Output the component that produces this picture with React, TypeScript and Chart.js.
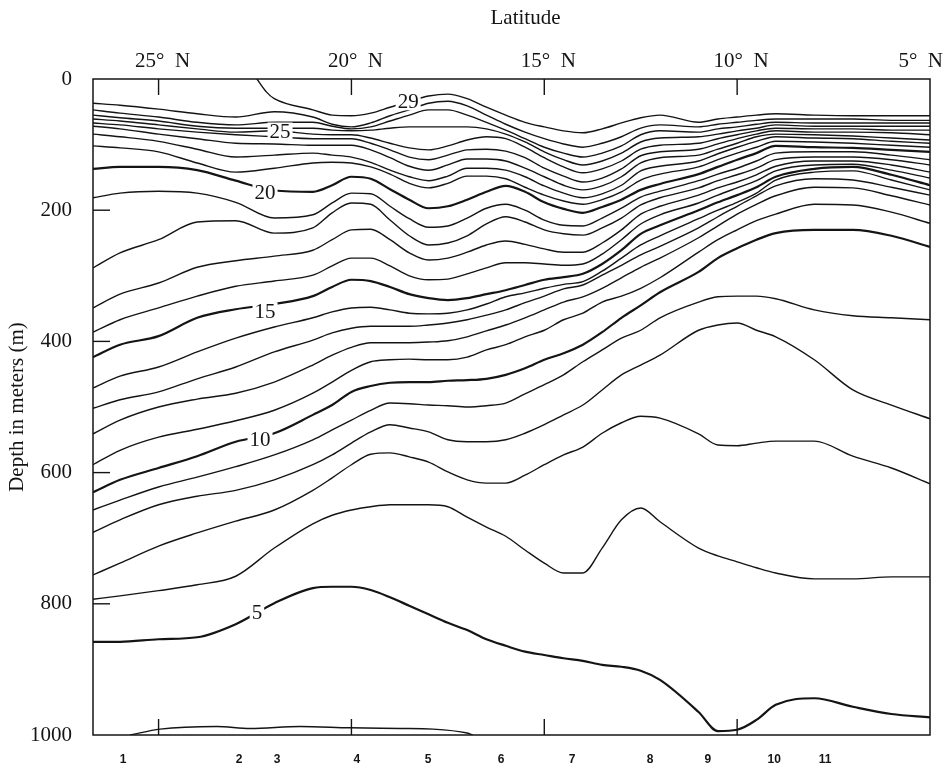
import React, { useEffect, useRef } from "react";
import { Chart, registerables } from "chart.js";

Chart.register(...registerables);

const SERIF = '"Liberation Serif", "DejaVu Serif", serif';
const SANS = '"Liberation Sans", Arial, sans-serif';
const INK = "#141414";

// Latitude grid (°N) shared by the isotherms
const LAT = [26.7, 26, 25, 24, 23, 22, 21, 20.5, 20, 19.5, 19, 18.5, 18, 17.5, 17, 16.5, 16, 15.5, 15, 14.5, 14, 13.5, 13, 12.5, 12, 11, 10.5, 10, 9.5, 9, 8, 7, 6, 5];

// Depth (m) of each isotherm at the latitudes above
const T28 = [37, 40, 46, 53, 58, 50, 58, 69, 73, 67, 56, 47, 37, 34, 41, 55, 69, 81, 91, 99, 104, 98, 88, 75, 70, 73, 69, 66, 63, 61, 61, 61, 63, 63];
const T27 = [47, 52, 58, 66, 70, 66, 66, 72, 76, 73, 64, 55, 47, 47, 55, 66, 78, 91, 104, 113, 119, 113, 102, 85, 79, 81, 76, 73, 69, 66, 67, 67, 67, 67];
const T26 = [55, 59, 64, 72, 75, 75, 75, 78, 79, 78, 75, 73, 73, 73, 73, 76, 84, 96, 111, 123, 131, 125, 113, 96, 90, 88, 84, 79, 75, 70, 72, 72, 72, 72];
const T25 = [61, 64, 70, 76, 81, 79, 84, 85, 85, 90, 98, 105, 108, 102, 93, 88, 91, 104, 120, 134, 143, 137, 125, 107, 101, 98, 91, 85, 79, 75, 76, 76, 78, 78];
const T24 = [67, 70, 76, 81, 85, 88, 91, 91, 91, 98, 108, 119, 123, 116, 108, 107, 110, 120, 136, 148, 157, 151, 137, 117, 111, 107, 99, 91, 84, 79, 81, 81, 82, 85];
const T23 = [72, 76, 84, 91, 98, 99, 101, 101, 101, 108, 120, 133, 139, 131, 122, 122, 125, 136, 149, 162, 169, 163, 149, 128, 120, 116, 107, 98, 88, 84, 85, 87, 90, 93];
const T22 = [84, 88, 95, 107, 119, 116, 113, 116, 119, 127, 139, 149, 155, 148, 136, 136, 139, 149, 163, 174, 181, 175, 162, 140, 133, 125, 114, 104, 95, 88, 90, 91, 95, 98];
const T21 = [102, 105, 111, 128, 142, 136, 128, 127, 128, 134, 145, 159, 166, 159, 148, 148, 152, 165, 177, 186, 191, 184, 172, 154, 145, 134, 123, 113, 104, 95, 96, 98, 101, 104];
const T20 = [137, 134, 134, 139, 155, 170, 172, 162, 149, 152, 168, 184, 197, 194, 184, 172, 163, 172, 188, 198, 204, 195, 184, 169, 160, 145, 134, 123, 113, 102, 104, 105, 108, 111];
const T19 = [181, 174, 171, 174, 188, 212, 207, 189, 174, 175, 194, 213, 226, 224, 212, 197, 191, 200, 215, 223, 224, 212, 197, 180, 171, 155, 145, 136, 125, 113, 111, 111, 116, 123];
const T18 = [288, 265, 245, 218, 216, 235, 227, 204, 189, 191, 215, 239, 253, 250, 239, 221, 210, 218, 230, 236, 238, 227, 212, 192, 181, 166, 155, 146, 136, 123, 119, 119, 123, 131];
const T17 = [349, 328, 311, 287, 277, 270, 261, 245, 230, 229, 245, 265, 276, 273, 264, 253, 247, 252, 259, 264, 264, 250, 230, 206, 194, 177, 166, 157, 146, 133, 125, 125, 131, 142];
const T16 = [386, 367, 349, 331, 316, 308, 299, 285, 273, 273, 285, 300, 306, 305, 297, 288, 280, 280, 282, 284, 282, 267, 245, 221, 207, 189, 177, 166, 155, 140, 131, 130, 139, 151];
const T15 = [424, 405, 392, 364, 351, 343, 331, 317, 306, 308, 317, 328, 334, 337, 334, 328, 322, 314, 306, 302, 297, 282, 261, 236, 223, 200, 188, 177, 165, 149, 137, 134, 146, 162];
const T14 = [471, 453, 439, 416, 395, 378, 364, 355, 349, 348, 352, 357, 358, 357, 352, 343, 332, 326, 319, 313, 309, 293, 273, 253, 239, 213, 200, 188, 174, 154, 142, 140, 154, 169];
const T13 = [502, 489, 477, 457, 439, 416, 398, 387, 380, 377, 377, 377, 375, 372, 367, 360, 352, 341, 331, 320, 314, 299, 284, 268, 255, 227, 210, 194, 178, 163, 152, 154, 165, 177];
const T12 = [541, 520, 500, 488, 479, 462, 436, 421, 409, 402, 402, 402, 401, 399, 393, 384, 375, 364, 352, 340, 332, 319, 303, 287, 273, 242, 224, 206, 191, 178, 165, 166, 178, 192];
const T11 = [588, 566, 546, 534, 521, 505, 479, 462, 444, 431, 428, 427, 428, 428, 424, 413, 405, 393, 383, 367, 357, 340, 331, 319, 303, 264, 245, 230, 216, 206, 191, 192, 203, 220];
const T10 = [630, 611, 593, 575, 553, 540, 512, 497, 477, 468, 463, 462, 462, 460, 459, 457, 451, 441, 428, 418, 405, 386, 364, 345, 325, 294, 273, 258, 245, 235, 230, 230, 239, 256];
const T9 = [657, 642, 622, 607, 591, 573, 550, 535, 520, 505, 494, 495, 497, 498, 500, 498, 494, 480, 466, 451, 431, 413, 395, 383, 364, 340, 332, 331, 331, 335, 352, 361, 364, 367];
const T8 = [691, 672, 649, 636, 627, 611, 588, 573, 555, 538, 527, 532, 538, 550, 553, 553, 550, 540, 527, 512, 497, 474, 451, 436, 421, 383, 375, 372, 383, 393, 428, 474, 497, 518];
const T7 = [756, 738, 712, 692, 674, 657, 627, 608, 588, 572, 570, 576, 584, 599, 611, 616, 616, 604, 588, 573, 561, 540, 524, 514, 517, 541, 558, 559, 555, 552, 552, 575, 593, 617];
const T6 = [793, 788, 780, 771, 758, 715, 678, 665, 657, 652, 649, 649, 649, 652, 668, 683, 697, 718, 738, 753, 753, 715, 672, 654, 675, 715, 727, 736, 745, 753, 762, 762, 759, 759];
const T5 = [858, 858, 854, 851, 831, 799, 776, 774, 774, 779, 790, 803, 816, 829, 840, 854, 864, 873, 878, 883, 887, 893, 896, 902, 916, 965, 994, 992, 977, 954, 944, 957, 968, 973];

// 29° isotherm outcrops at the surface
const LAT29 = [22.45, 22.2, 22, 21, 20.5, 20, 19.5, 19, 18.5, 18, 17.5, 17, 16.5, 16, 15.5, 15, 14.5, 14, 13.5, 13, 12.5, 12, 11, 10.5, 10, 9.5, 9, 8, 7, 6, 5];
const T29 = [0, 20, 30, 47, 55, 56, 52, 43, 34, 26, 23, 30, 43, 55, 66, 73, 79, 82, 76, 67, 59, 55, 66, 61, 58, 55, 53, 55, 56, 56, 56];

// 4° isotherm touching the bottom of the section
const LAT4 = [25.74, 24.96, 23.49, 22.63, 21.33, 20.04, 18.74, 17.88, 17.0, 16.85];
const T4 = [1000, 991, 987, 990, 987, 989, 990, 991, 997, 1000];

const BOLD = ["5", "10", "15", "20"];

// Axis ticks
const LAT_TICKS = [25, 20, 15, 10, 5];
const DEPTH_TICKS = [0, 200, 400, 600, 800, 1000];
const STATION_LABELS = ["1", "2", "3", "4", "5", "6", "7", "8", "9", "10", "11"];
const STATION_LAT = [25.92, 22.91, 21.93, 19.86, 18.01, 16.12, 14.28, 12.26, 10.76, 9.04, 7.72];

// Contour labels
const LABEL_TEXT = ["29", "25", "20", "15", "10", "5"];
const LABEL_LAT = [18.53, 21.85, 22.24, 22.24, 22.37, 22.45];
const LABEL_DEPTH = [34, 80, 173, 354, 549, 813];

const SERIES: { name: string; lat: number[]; d: number[] }[] = [
  { name: "29", lat: LAT29, d: T29 },
  { name: "28", lat: LAT, d: T28 },
  { name: "27", lat: LAT, d: T27 },
  { name: "26", lat: LAT, d: T26 },
  { name: "25", lat: LAT, d: T25 },
  { name: "24", lat: LAT, d: T24 },
  { name: "23", lat: LAT, d: T23 },
  { name: "22", lat: LAT, d: T22 },
  { name: "21", lat: LAT, d: T21 },
  { name: "20", lat: LAT, d: T20 },
  { name: "19", lat: LAT, d: T19 },
  { name: "18", lat: LAT, d: T18 },
  { name: "17", lat: LAT, d: T17 },
  { name: "16", lat: LAT, d: T16 },
  { name: "15", lat: LAT, d: T15 },
  { name: "14", lat: LAT, d: T14 },
  { name: "13", lat: LAT, d: T13 },
  { name: "12", lat: LAT, d: T12 },
  { name: "11", lat: LAT, d: T11 },
  { name: "10", lat: LAT, d: T10 },
  { name: "9", lat: LAT, d: T9 },
  { name: "8", lat: LAT, d: T8 },
  { name: "7", lat: LAT, d: T7 },
  { name: "6", lat: LAT, d: T6 },
  { name: "5", lat: LAT, d: T5 },
  { name: "4", lat: LAT4, d: T4 },
];

const decor = {
  id: "decor",
  afterDatasetsDraw(chart: any) {
    const { ctx, chartArea } = chart;
    const { left, right, top, bottom } = chartArea;
    const x = chart.scales.x;
    const y = chart.scales.y;
    ctx.save();
    ctx.strokeStyle = INK;
    ctx.lineWidth = 1.5;
    ctx.strokeRect(left, top, right - left, bottom - top);
    ctx.lineWidth = 1.4;
    const seg = (a: number, b: number, c: number, d: number) => {
      ctx.beginPath();
      ctx.moveTo(a, b);
      ctx.lineTo(c, d);
      ctx.stroke();
    };
    LAT_TICKS.filter((v) => v !== 5).forEach((v) => {
      const px = x.getPixelForValue(v);
      seg(px, top, px, top + 16);
      seg(px, bottom, px, bottom - 16);
    });
    DEPTH_TICKS.filter((v) => v > 0 && v < 1000).forEach((v) => {
      const py = y.getPixelForValue(v);
      seg(left, py, left + 17, py);
    });

    ctx.font = `21px ${SERIF}`;
    ctx.textBaseline = "middle";
    // latitude tick labels
    LAT_TICKS.forEach((v, i) => {
      const px = x.getPixelForValue(v);
      const last = i === LAT_TICKS.length - 1;
      ctx.fillStyle = INK;
      ctx.textAlign = last ? "right" : "center";
      ctx.fillText(`${v}°  N`, last ? px + 13 : px + 4, top - 18);
    });
    // axis title
    ctx.textAlign = "center";
    ctx.fillText("Latitude", (left + right) / 2 + 14, 18);

    // contour labels
    LABEL_TEXT.forEach((t, i) => {
      const px = x.getPixelForValue(LABEL_LAT[i]);
      const py = y.getPixelForValue(LABEL_DEPTH[i]);
      const w = ctx.measureText(t).width + 4;
      ctx.fillStyle = "#ffffff";
      ctx.fillRect(px - w / 2, py - 9, w, 18);
      ctx.fillStyle = INK;
      ctx.fillText(t, px, py + 1);
    });
    ctx.restore();
  },
};

export default function App() {
  const ref = useRef<HTMLCanvasElement | null>(null);

  useEffect(() => {
    if (!ref.current) return;
    const datasets = SERIES.map((s) => ({
      label: s.name,
      data: s.lat.map((v, i) => ({ x: v, y: s.d[i] })),
      borderColor: INK,
      borderWidth: BOLD.includes(s.name) ? 2.2 : 1.4,
      pointRadius: 0,
      fill: false,
      cubicInterpolationMode: "monotone" as const,
      xAxisID: "x",
      yAxisID: "y",
    }));

    const chart = new Chart(ref.current, {
      type: "line",
      data: { datasets },
      options: {
        animation: false,
        responsive: false,
        devicePixelRatio: 1,
        events: [],
        layout: { padding: { left: 0, right: 22, top: 0, bottom: 0 } },
        plugins: { legend: { display: false }, tooltip: { enabled: false } },
        scales: {
          x: {
            type: "linear",
            position: "top",
            min: 5,
            max: 26.7,
            reverse: true,
            afterBuildTicks: (s: any) => {
              s.ticks = LAT_TICKS.map((v) => ({ value: v }));
            },
            ticks: { display: false },
            grid: { display: false },
            border: { display: false },
            afterFit: (s: any) => {
              s.height = 79;
              s.paddingLeft = 0;
              s.paddingRight = 0;
            },
          },
          x2: {
            type: "linear",
            position: "bottom",
            min: 5,
            max: 26.7,
            reverse: true,
            afterBuildTicks: (s: any) => {
              s.ticks = STATION_LAT.map((v) => ({ value: v }));
            },
            ticks: {
              callback: (_v: any, i: number) => STATION_LABELS[i],
              font: { family: SANS, size: 12, weight: "bold" },
              color: INK,
              padding: 9,
              autoSkip: false,
              maxRotation: 0,
            },
            grid: { display: false },
            border: { display: false },
            afterFit: (s: any) => {
              s.height = 31;
              s.paddingLeft = 0;
              s.paddingRight = 0;
            },
          },
          y: {
            type: "linear",
            min: 0,
            max: 1000,
            reverse: true,
            afterBuildTicks: (s: any) => {
              s.ticks = DEPTH_TICKS.map((v) => ({ value: v }));
            },
            ticks: {
              callback: (v: any) => String(v),
              font: { family: SERIF, size: 21 },
              color: INK,
              padding: 13,
            },
            grid: { display: false },
            border: { display: false },
            title: {
              display: true,
              text: "Depth in meters (m)",
              font: { family: SERIF, size: 21 },
              color: INK,
              padding: { top: 5, bottom: 0 },
            },
            afterFit: (s: any) => {
              s.width = 93;
              s.paddingTop = 0;
              s.paddingBottom = 0;
            },
          },
        },
      },
      plugins: [decor],
    });
    return () => chart.destroy();
  }, []);

  return (
    <div style={{ position: "fixed", left: 0, top: 0, width: 952, height: 766, background: "#fff" }}>
      <canvas ref={ref} width={952} height={766} style={{ display: "block" }} />
    </div>
  );
}
